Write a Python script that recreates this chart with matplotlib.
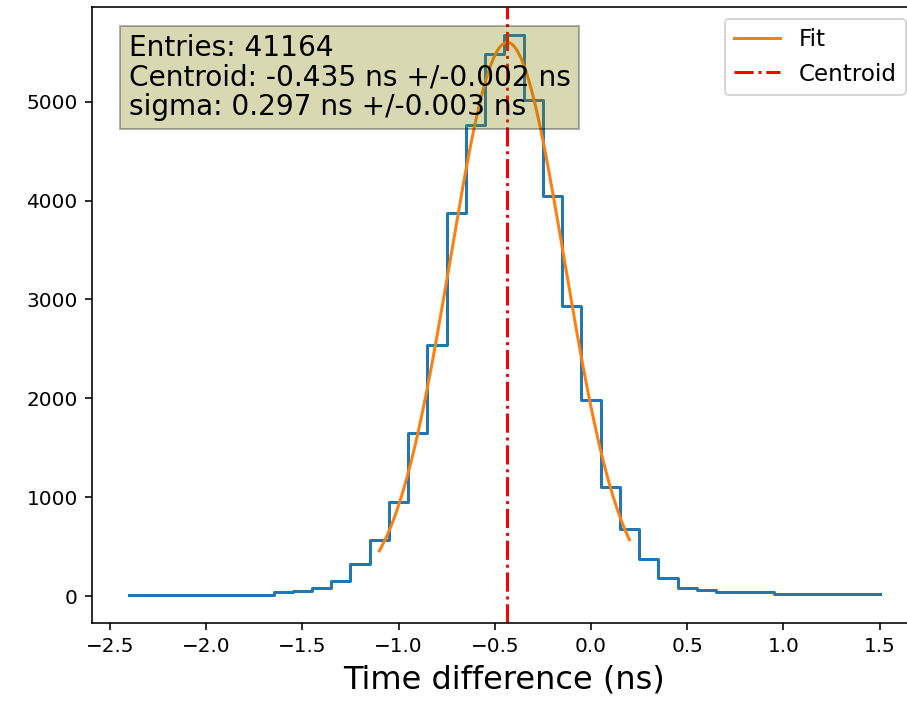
import numpy as np
import matplotlib.pyplot as plt

# ─── Histogram (bin centres, 0.1 ns wide) ──────────────────────────────────────
centers = np.linspace(-2.4, 1.5, 40)
counts = [
    8, 8, 8, 8, 8, 8, 8, 9,            # -2.4 .. -1.7
    37, 50, 84, 151, 320, 565, 950,    # -1.6 .. -1.0
    1646, 2537, 3874, 4765, 5487,      # -0.9 .. -0.5
    5672, 5017, 4042, 2933, 1986,      # -0.4 .. 0.0
    1102, 675, 380, 181, 81, 60,       # 0.1 .. 0.6
    37, 37, 37,                        # 0.7 .. 0.9
    17, 17, 17, 17, 17, 17,            # 1.0 .. 1.5
]

# ─── Fit results shown in the box ───────────────────────────────────────────────
entries = 41164
centroid, centroid_err = -0.435, 0.002
sigma, sigma_err = 0.297, 0.003
amplitude = 5600
fit_range = (-1.1, 0.2)

fig = plt.figure(figsize=(907 / 144, 703 / 144), dpi=144)
ax = fig.add_axes([0.1011, 0.1134, 0.910, 0.8762])

ax.step(centers, counts, where="mid")

xf = np.linspace(fit_range[0], fit_range[1], 200)
ax.plot(xf, amplitude * np.exp(-0.5 * ((xf - centroid) / sigma) ** 2), label="Fit")
ax.axvline(centroid, color="r", linestyle="-.", label="Centroid")

info = (f"Entries: {entries}\n"
        f"Centroid: {centroid} ns +/-{centroid_err:.3f} ns\n"
        f"sigma: {sigma} ns +/-{sigma_err:.3f} ns")
ax.text(0.045, 0.956, info, transform=ax.transAxes, fontsize=14, va="top",
        linespacing=1.05,
        bbox=dict(boxstyle="square", facecolor="olive", alpha=0.3))

ax.set_xlabel("Time difference (ns)", fontsize=16)
ax.legend(loc="upper right", fontsize=11.5)

fig.savefig("out.png", dpi=144)
